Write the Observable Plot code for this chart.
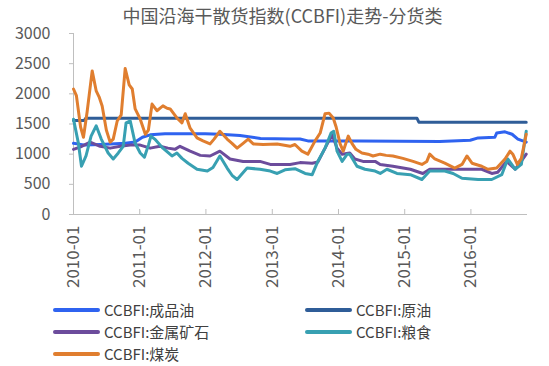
<!DOCTYPE html>
<html>
<head>
<meta charset="utf-8">
<script src="https://cdn.jsdelivr.net/npm/d3@7"></script>
<script src="https://cdn.jsdelivr.net/npm/@observablehq/plot@0.6"></script>
<style>
  html, body { margin: 0; padding: 0; background: #fff; }
  #wrap { position: relative; width: 549px; height: 366px; overflow: hidden; font-family: "Noto Sans CJK SC", "Noto Sans", sans-serif; color: #595959; }
  #title { position: absolute; top: 2px; left: 8px; width: 549px; text-align: center; font-size: 18px; line-height: 26px; color: #595959; z-index: 2; }
  #chart { position: absolute; top: 0; left: 0; z-index: 1; }
  #legend { position: absolute; top: 300px; left: 0; width: 549px; height: 66px; }
  .item { position: absolute; display: flex; align-items: center; font-size: 15px; line-height: 20px; height: 20px; color: #404040; white-space: nowrap; }
  .swatch { width: 47px; height: 4px; border-radius: 2px; margin-right: 4px; }
</style>
</head>
<body>
<div id="wrap">
  <div id="chart"></div>
  <div id="title">中国沿海干散货指数(CCBFI)走势-分货类</div>
  <div id="legend"></div>
</div>
<script>
// ---- data ----
const titleText = "中国沿海干散货指数(CCBFI)走势-分货类";
const seriesNames = ["CCBFI:成品油", "CCBFI:原油", "CCBFI:金属矿石", "CCBFI:粮食", "CCBFI:煤炭"];
const seriesColors = ["#2f63f0", "#2f5d98", "#6c4c9c", "#38a0b2", "#e07e2f"];
const yTicks = [0, 500, 1000, 1500, 2000, 2500, 3000];
const xTicks = ["2010-01-01", "2011-01-01", "2012-01-01", "2013-01-01", "2014-01-01", "2015-01-01", "2016-01-01"];

// CCBFI:成品油
const productOilDates = ["2010-01-01","2010-03-06","2010-05-28","2010-10-13","2010-12-07","2011-01-16","2011-02-28","2011-05-20","2011-12-28","2012-03-18","2012-07-07","2012-10-28","2013-04-09","2013-06-03","2013-07-16","2014-04-28","2015-07-13","2015-12-28","2016-02-10","2016-05-12","2016-05-22","2016-07-07","2016-08-15","2016-09-16","2016-11-01"];
const productOilValues = [1180,1150,1160,1180,1200,1280,1320,1340,1340,1330,1310,1260,1250,1250,1220,1220,1210,1230,1270,1280,1350,1370,1330,1250,1200];

// CCBFI:原油
const crudeOilDates = ["2010-01-01","2010-03-01","2010-03-10","2015-03-10","2015-03-20","2016-11-01"];
const crudeOilValues = [1560,1560,1595,1595,1530,1530];

// CCBFI:金属矿石
const metalOreDates = ["2010-01-01","2010-02-09","2010-04-03","2010-05-28","2010-07-22","2010-09-16","2010-11-10","2011-01-04","2011-02-28","2011-04-22","2011-06-06","2011-07-14","2011-08-11","2011-10-06","2011-12-01","2012-01-24","2012-03-18","2012-05-13","2012-07-24","2012-10-25","2012-12-21","2013-04-09","2013-06-03","2013-08-09","2013-09-09","2013-10-19","2013-11-27","2013-12-24","2014-01-21","2014-03-04","2014-04-01","2014-05-16","2014-07-22","2014-08-19","2014-10-28","2015-02-01","2015-04-11","2015-05-19","2015-08-10","2015-12-23","2016-03-01","2016-04-25","2016-05-28","2016-07-15","2016-09-01","2016-10-04","2016-11-01"];
const metalOreValues = [1080,1120,1200,1130,1100,1130,1150,1150,1100,1130,1100,1080,1130,1050,980,970,1050,920,880,880,830,830,860,850,870,1100,1330,1100,1000,1020,920,880,880,830,800,750,680,750,750,750,750,680,700,880,750,880,1000];

// CCBFI:粮食
const grainDates = ["2010-01-01","2010-01-28","2010-02-14","2010-03-11","2010-04-08","2010-05-06","2010-06-03","2010-07-11","2010-08-08","2010-09-05","2010-10-02","2010-10-18","2010-11-10","2010-12-07","2011-01-04","2011-01-27","2011-02-18","2011-03-04","2011-03-25","2011-05-09","2011-06-28","2011-07-25","2011-08-22","2011-09-25","2011-11-13","2012-01-09","2012-02-09","2012-03-18","2012-04-27","2012-05-24","2012-06-21","2012-08-15","2012-10-25","2012-12-21","2013-01-28","2013-03-12","2013-05-06","2013-07-01","2013-08-09","2013-09-09","2013-10-19","2013-11-21","2013-12-06","2013-12-24","2014-01-21","2014-02-18","2014-03-04","2014-04-13","2014-05-27","2014-07-22","2014-08-19","2014-09-25","2014-11-19","2015-02-01","2015-04-06","2015-05-19","2015-08-10","2015-09-25","2015-11-13","2016-02-10","2016-04-25","2016-06-19","2016-07-22","2016-09-01","2016-10-05","2016-11-01"];
const grainValues = [1580,1180,800,970,1300,1470,1250,1020,920,1020,1130,1520,1550,1180,1020,950,1150,1300,1250,1100,970,1020,930,850,750,720,780,970,770,650,580,770,750,720,680,740,760,680,660,880,1100,1350,1380,1050,880,1000,1000,800,750,720,680,750,680,660,580,720,720,680,600,580,580,660,920,750,830,1380];

// CCBFI:煤炭
const coalDates = ["2010-01-01","2010-01-17","2010-02-09","2010-02-25","2010-03-17","2010-04-14","2010-05-06","2010-05-22","2010-06-08","2010-07-01","2010-07-22","2010-08-08","2010-08-30","2010-09-21","2010-10-13","2010-11-04","2010-11-21","2010-12-07","2011-01-04","2011-02-01","2011-02-18","2011-03-10","2011-04-06","2011-04-22","2011-05-09","2011-06-01","2011-06-18","2011-07-25","2011-08-22","2011-09-09","2011-10-06","2011-11-13","2011-12-16","2012-01-24","2012-02-15","2012-03-18","2012-04-27","2012-05-24","2012-06-21","2012-07-24","2012-08-21","2012-09-18","2012-11-12","2013-01-28","2013-04-09","2013-05-06","2013-06-13","2013-07-16","2013-08-25","2013-09-22","2013-10-19","2013-11-10","2013-12-03","2013-12-19","2014-01-10","2014-01-27","2014-02-24","2014-03-16","2014-04-07","2014-05-10","2014-06-13","2014-07-10","2014-08-19","2014-09-21","2014-10-28","2014-12-22","2015-02-16","2015-04-06","2015-05-03","2015-05-19","2015-06-16","2015-08-10","2015-10-04","2015-11-13","2015-12-10","2016-01-07","2016-03-01","2016-04-04","2016-05-22","2016-07-07","2016-08-04","2016-08-19","2016-09-13","2016-10-05","2016-11-01"];
const coalValues = [2080,1970,1450,1280,1700,2380,2050,1950,1800,1400,1200,1250,1550,1650,2420,2150,2080,1750,1580,1330,1400,1830,1720,1760,1800,1760,1750,1600,1520,1670,1430,1270,1220,1170,1250,1380,1250,1180,1100,1180,1250,1170,1160,1170,1130,1160,1050,1000,1220,1350,1670,1680,1600,1450,1170,1050,1300,1180,1080,1020,1000,970,1000,980,970,930,880,830,880,1000,920,850,770,830,970,850,800,750,770,920,1050,1000,830,930,1330];

// ---- build table ----
const seriesDates = [productOilDates, crudeOilDates, metalOreDates, grainDates, coalDates];
const seriesValues = [productOilValues, crudeOilValues, metalOreValues, grainValues, coalValues];
const rows = [];
seriesNames.forEach((name, i) => {
  const ds = seriesDates[i], vs = seriesValues[i];
  const n = Math.min(ds.length, vs.length);
  for (let k = 0; k < n; k++) rows.push({name, date: new Date(ds[k]), value: vs[k]});
});
const tickDates = xTicks.map(d => new Date(d));
const xStart = new Date("2010-01-01");
const xEnd = new Date("2016-11-08");

const chart = Plot.plot({
  width: 549,
  height: 300,
  marginTop: 33,
  marginBottom: 86,
  marginLeft: 73,
  marginRight: 22,
  style: {fontFamily: '"Noto Sans CJK SC", "Noto Sans", sans-serif', color: "#595959", background: "transparent"},
  x: {type: "utc", domain: [xStart, xEnd]},
  y: {domain: [0, 3000]},
  color: {domain: seriesNames, range: seriesColors},
  marks: [
    Plot.ruleX([xStart], {y1: 0, y2: 3000, stroke: "#bfbfbf", strokeWidth: 1}),
    Plot.ruleY([0], {stroke: "#bfbfbf", strokeWidth: 1}),
    Plot.ruleX(tickDates, {x: d => d, y1: 0, y2: 0, insetTop: -5, stroke: "#bfbfbf"}),
    Plot.axisY({ticks: yTicks, tickFormat: d => String(d), tickSize: 4, tickPadding: 19, fontSize: 16, stroke: "#bfbfbf", fill: "#595959", label: null}),
    Plot.axisX({ticks: tickDates, tickFormat: d3.utcFormat("%Y-%m"), tickRotate: -90, tickSize: 0, tickPadding: 11, fontSize: 17, fill: "#595959", label: null}),
    Plot.line(rows, {x: "date", y: "value", z: "name", stroke: "name", strokeWidth: 3, strokeLinejoin: "round", strokeLinecap: "round"})
  ]
});
document.getElementById("chart").appendChild(chart);

// ---- legend ----
const legend = document.getElementById("legend");
const colX = [53, 305];
const rowY = [10, 32, 54];
seriesNames.forEach((name, i) => {
  const item = document.createElement("div");
  item.className = "item";
  item.style.left = colX[i % 2] + "px";
  item.style.top = (rowY[Math.floor(i / 2)] - 10) + "px";
  const sw = document.createElement("span");
  sw.className = "swatch";
  sw.style.background = seriesColors[i];
  const tx = document.createElement("span");
  tx.textContent = name;
  item.appendChild(sw);
  item.appendChild(tx);
  legend.appendChild(item);
});
</script>
</body>
</html>
